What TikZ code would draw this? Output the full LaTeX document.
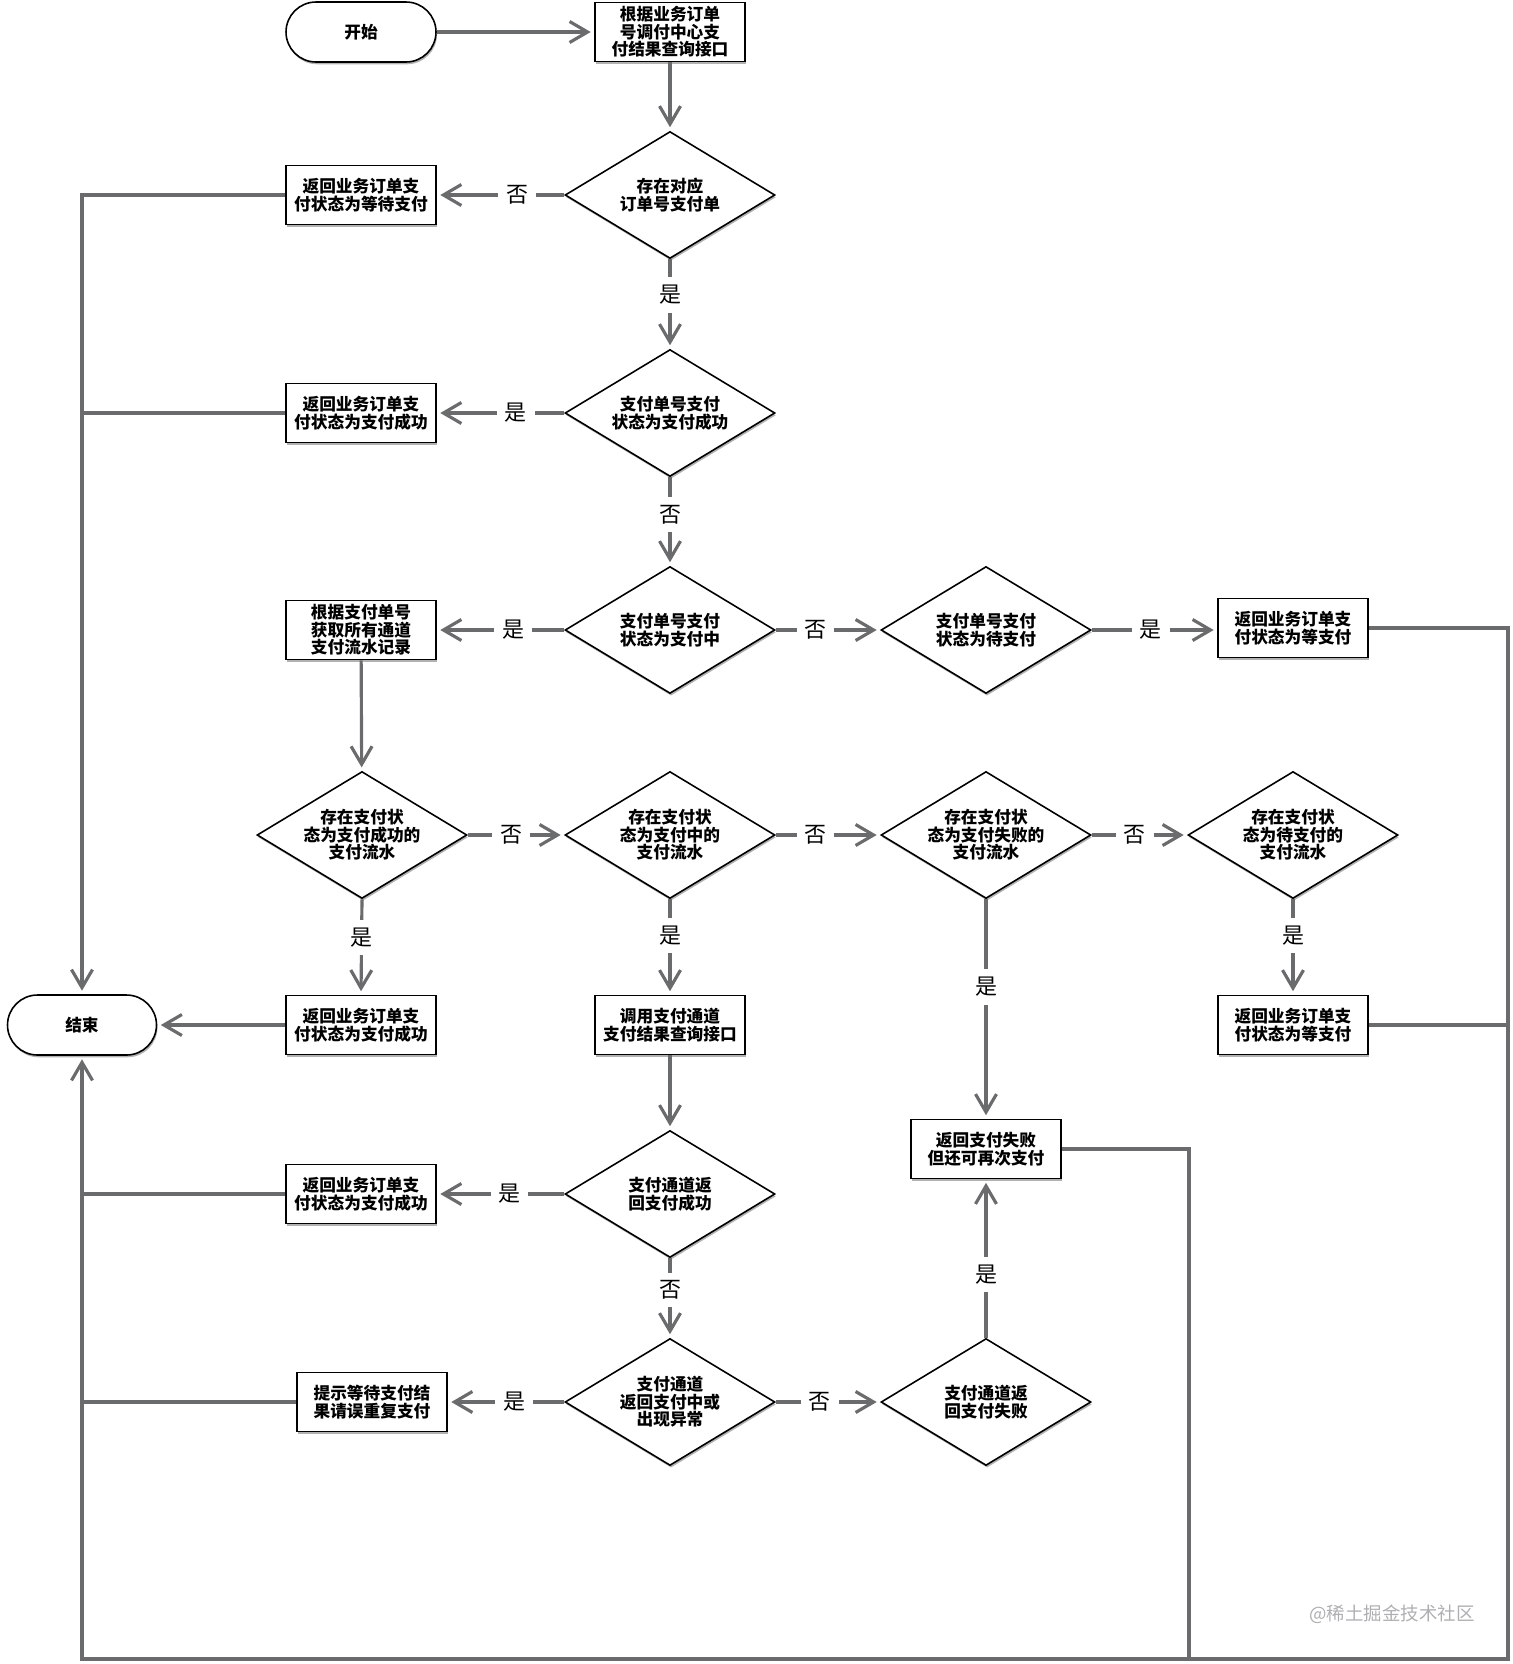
\documentclass[tikz,border=0pt]{standalone}
\usepackage{fontspec}
\setmainfont{Noto Sans CJK SC}
\usepackage{tikz}
\usetikzlibrary{arrows.meta,shapes.geometric,shadows}
\definecolor{linegray}{RGB}{105,107,108}
\definecolor{markgray}{RGB}{175,175,178}

\begin{document}
\begin{tikzpicture}[
    x=0.02cm, y=-0.02cm,
    base/.style={draw=black, line width=0.9pt, fill=white, align=center,
      font=\bfseries\fontsize{9.5}{10}\selectfont,
      drop shadow={shadow xshift=0.6pt, shadow yshift=-1.3pt, fill=black!55, opacity=0.55}},
    term/.style={base, rectangle, rounded corners=0.6cm, minimum width=3cm, minimum height=1.2cm},
    box/.style={base, rectangle, minimum width=3cm, minimum height=1.18cm, inner sep=1pt},
    test/.style={base, diamond, shape aspect=1.65, minimum width=4.2cm, minimum height=2.54cm, inner sep=0pt},
    link/.style={draw=linegray, line width=1.8pt},
    flow/.style={link, -{Straight Barb[length=0.36cm, width=0.42cm, line width=1.8pt]}, shorten >=2pt},
    lbl/.style={fill=white, inner sep=4.5pt, font=\fontsize{12.5}{12.5}\selectfont}
  ]
  \useasboundingbox (0,0) rectangle (1512,1664);

  \node[term] (start) at (361,32) {开始};
  \node[box] (q0) at (670,32) {根据业务订单\\号调付中心支\\付结果查询接口};
  \node[test] (d1) at (670,195) {存在对应\\订单号支付单};
  \node[box] (r1) at (361,195) {返回业务订单支\\付状态为等待支付};
  \node[test] (d2) at (670,413) {支付单号支付\\状态为支付成功};
  \node[box] (r2) at (361,413) {返回业务订单支\\付状态为支付成功};
  \node[test] (d3) at (670,630) {支付单号支付\\状态为支付中};
  \node[box] (b3) at (361,630) {根据支付单号\\获取所有通道\\支付流水记录};
  \node[test] (d4) at (986,630) {支付单号支付\\状态为待支付};
  \node[box] (r4) at (1293,628) {返回业务订单支\\付状态为等支付};

  \node[test] (d5) at (362,835) {存在支付状\\态为支付成功的\\支付流水};
  \node[test] (d6) at (670,835) {存在支付状\\态为支付中的\\支付流水};
  \node[test] (d7) at (986,835) {存在支付状\\态为支付失败的\\支付流水};
  \node[test] (d8) at (1293,835) {存在支付状\\态为待支付的\\支付流水};

  \node[term, minimum width=2.98cm] (stop) at (82,1025) {结束};
  \node[box] (r5) at (361,1025) {返回业务订单支\\付状态为支付成功};
  \node[box] (q6) at (670,1025) {调用支付通道\\支付结果查询接口};
  \node[box] (r8) at (1293,1025) {返回业务订单支\\付状态为等支付};
  \node[box] (r7) at (986,1149) {返回支付失败\\但还可再次支付};

  \node[test] (d9) at (670,1194) {支付通道返\\回支付成功};
  \node[box] (r9) at (361,1194) {返回业务订单支\\付状态为支付成功};
  \node[test] (d10) at (670,1402) {支付通道\\返回支付中或\\出现异常};
  \node[box] (r10) at (372,1402) {提示等待支付结\\果请误重复支付};
  \node[test] (d11) at (986,1402) {支付通道返\\回支付失败};

  \coordinate (sw) at (82,1659);
  \coordinate (se) at (1508,1659);
  \coordinate (m7) at (1189,1659);

  \draw[flow] (start) -- (q0);
  \draw[flow] (q0) -- (d1);
  \draw[flow] (d1.west) -- node[lbl, pos=0.37] (l1) {否} (r1.east);
  \draw[flow] (d1.south) -- node[lbl, pos=0.4] (l2) {是} (d2.north);
  \draw[flow] (d2.west) -- node[lbl, pos=0.38] (l3) {是} (r2.east);
  \draw[flow] (d2.south) -- node[lbl, pos=0.42] (l4) {否} (d3.north);
  \draw[flow] (d3.west) -- node[lbl, pos=0.4] (l5) {是} (b3.east);
  \draw[flow] (d3.east) -- node[lbl, pos=0.38] (l6) {否} (d4.west);
  \draw[flow] (d4.east) -- node[lbl, pos=0.47] (l7) {是} (r4.west |- d4.east);
  \draw[flow] (b3) -- (d5);
  \draw[flow] (d5.east) -- node[lbl, pos=0.45] (l8) {否} (d6.west);
  \draw[flow] (d6.east) -- node[lbl, pos=0.38] (l9) {否} (d7.west);
  \draw[flow] (d7.east) -- node[lbl, pos=0.45] (l10) {否} (d8.west);
  \draw[flow] (d5.south) -- node[lbl, pos=0.4] (l11) {是} (r5.north);
  \draw[flow] (d6.south) -- node[lbl, pos=0.38] (l12) {是} (q6.north);
  \draw[flow] (d7.south) -- node[lbl, pos=0.4] (l13) {是} (r7.north);
  \draw[flow] (d8.south) -- node[lbl, pos=0.38] (l14) {是} (r8.north);
  \draw[flow] (r5) -- (stop);
  \draw[flow] (q6) -- (d9);
  \draw[flow] (d9.west) -- node[lbl, pos=0.43] (l15) {是} (r9.east);
  \draw[flow] (d9.south) -- node[lbl, pos=0.4] (l16) {否} (d10.north);
  \draw[flow] (d10.west) -- node[lbl, pos=0.43] (l17) {是} (r10.east);
  \draw[flow] (d10.east) -- node[lbl, pos=0.42] (l18) {否} (d11.west);
  \draw[flow] (d11.north) -- node[lbl, pos=0.4] (l19) {是} (r7.south);

  \draw[flow] (r1.west) -- (r1.west -| stop) -- (stop.north);
  \draw[link] (r2.west) -- (r2.west -| stop);
  \draw[flow] (r4.east) -| (se) -- (sw) -- (stop.south);
  \draw[link] (r8.east) -- (r8.east -| se);
  \draw[link] (r7.east) -| (m7);
  \draw[link] (r9.west) -- (r9.west -| sw);
  \draw[link] (r10.west) -- (r10.west -| sw);

  \node[text=markgray, font=\fontsize{10.5}{10.5}\selectfont] (mark) at (1392,1614) {@稀土掘金技术社区};
\end{tikzpicture}
\end{document}
